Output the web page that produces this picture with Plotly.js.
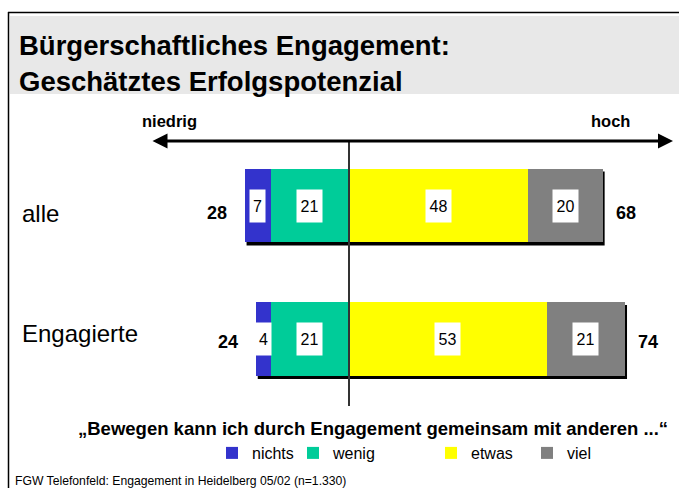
<!DOCTYPE html>
<html><head><meta charset="utf-8">
<script src="https://cdn.plot.ly/plotly-3.0.1.min.js"></script>
<style>html,body{margin:0;padding:0;background:#fff}#chart{width:679px;height:488px}</style>
</head><body><div id="chart"></div>
<script>
const groups = ['alle', 'Engagierte'];
const seriesNames = ['nichts', 'wenig', 'etwas', 'viel'];
const nichts = [7, 4];
const wenig = [21, 21];
const etwas = [48, 53];
const viel = [20, 21];
const lowTotal = [28, 24];
const highTotal = [68, 74];
const colors = ['#3333CC', '#00CC99', '#FFFF00', '#808080'];
const titleText = 'Bürgerschaftliches Engagement:<br>Geschätztes Erfolgspotenzial';
const questionText = '„Bewegen kann ich durch Engagement gemeinsam mit anderen ...“';
const sourceText = 'FGW Telefonfeld: Engagement in Heidelberg 05/02 (n=1.330)';
const lowLabel = 'niedrig', highLabel = 'hoch';

const W = 679, H = 488;
const PXU = 3.73;              // pixels per unit on x
const X0PX = 349;              // pixel position of zero
const UNITY = 133.5;           // pixels between category centres
const py = p => 1 - p / H;
const px = p => p / W;
const xu = p => (p - X0PX) / PXU;
const FONT = 'Liberation Sans, Arial, sans-serif';
const BARW = 0.554;

const vals = [nichts, wenig, etwas, viel];
const legendX = [212, 293, 431, 527];
const legendIds = ['legend', 'legend2', 'legend3', 'legend4'];
const traces = [];
[1, 0, 2, 3].forEach(i => {
  const sign = i < 2 ? -1 : 1;
  traces.push({
    type: 'bar', orientation: 'h', name: seriesNames[i],
    y: groups, x: vals[i].map(v => sign * v),
    marker: {color: colors[i], line: {width: 0}},
    width: BARW, legend: legendIds[i],
    hoverinfo: 'skip'
  });
});

const annotations = [];
const shapes = [];
const labelShift = [-7.5, 6];
const totalShift = [-7.5, -3];
groups.forEach((g, gi) => {
  const n = nichts[gi], w = wenig[gi], e = etwas[gi], v = viel[gi];
  const centers = [-(w + n / 2), -w / 2, e / 2, e + v / 2];
  const values = [n, w, e, v];
  values.forEach((val, k) => {
    annotations.push({
      x: centers[k], y: g, xref: 'x', yref: 'y', text: String(val),
      showarrow: false, bgcolor: '#ffffff', borderpad: 0,
      width: String(val).length > 1 ? 25 : 15, height: 32,
      font: {family: FONT, size: 16, color: '#000'}
    });
  });
  annotations.push({
    x: -(n + w), y: g, xref: 'x', yref: 'y', text: '<b>' + lowTotal[gi] + '</b>',
    xanchor: 'right', yanchor: 'middle', xshift: -16, yshift: totalShift[gi], showarrow: false,
    font: {family: FONT, size: 18, color: '#000'}
  });
  annotations.push({
    x: e + v, y: g, xref: 'x', yref: 'y', text: '<b>' + highTotal[gi] + '</b>',
    xanchor: 'left', yanchor: 'middle', xshift: 11, yshift: totalShift[gi], showarrow: false,
    font: {family: FONT, size: 18, color: '#000'}
  });
  annotations.push({
    x: px(20), y: g, xref: 'paper', yref: 'y', text: g,
    xanchor: 'left', yanchor: 'middle', yshift: labelShift[gi], showarrow: false,
    font: {family: FONT, size: 24, color: '#000'}
  });
  // drop shadow behind the bar
  shapes.push({
    type: 'rect', layer: 'below', xref: 'x', yref: 'y',
    x0: -(n + w) + 2 / PXU, x1: e + v + 2 / PXU,
    y0: gi - BARW / 2 + 3 / UNITY, y1: gi + BARW / 2 + 3 / UNITY,
    fillcolor: '#000', line: {width: 0}
  });
});

// header band and frame
shapes.push({type: 'rect', layer: 'below', xref: 'paper', yref: 'paper',
  x0: px(10), x1: 1, y0: py(94), y1: py(16), fillcolor: '#e8e8e8', line: {width: 0}});
shapes.push({type: 'line', xref: 'paper', yref: 'paper', x0: px(8), x1: 1, y0: py(12.5), y1: py(12.5),
  line: {color: '#000', width: 1.5}});
shapes.push({type: 'line', xref: 'paper', yref: 'paper', x0: px(8.5), x1: px(8.5), y0: py(12), y1: 0,
  line: {color: '#000', width: 1.5}});
// centre line
shapes.push({type: 'line', layer: 'above', xref: 'x', yref: 'paper', x0: 0, x1: 0, y0: py(406), y1: py(141),
  line: {color: '#333', width: 2}});

// scale arrow
annotations.push({x: xu(673), y: py(141), xref: 'x', yref: 'paper', ax: xu(151), ay: 0,
  axref: 'x', ayref: 'pixel', text: '', showarrow: true, arrowhead: 2, arrowside: 'end+start',
  arrowwidth: 3, arrowsize: 1, arrowcolor: '#000'});
annotations.push({x: px(169), y: py(121), xref: 'paper', yref: 'paper', text: '<b>' + lowLabel + '</b>',
  xanchor: 'center', yanchor: 'middle', showarrow: false, font: {family: FONT, size: 16.5, color: '#000'}});
annotations.push({x: px(610), y: py(121), xref: 'paper', yref: 'paper', text: '<b>' + highLabel + '</b>',
  xanchor: 'center', yanchor: 'middle', showarrow: false, font: {family: FONT, size: 16.5, color: '#000'}});
annotations.push({x: px(373), y: py(428), xref: 'paper', yref: 'paper', text: '<b>' + questionText + '</b>',
  xanchor: 'center', yanchor: 'middle', showarrow: false, font: {family: FONT, size: 18.5, color: '#000'}});
annotations.push({x: px(13), y: py(481), xref: 'paper', yref: 'paper', text: sourceText,
  xanchor: 'left', yanchor: 'middle', showarrow: false, font: {family: FONT, size: 12.2, color: '#000'}});

const layout = {
  width: W, height: H, margin: {l: 0, r: 0, t: 0, b: 0},
  paper_bgcolor: '#fff', plot_bgcolor: 'rgba(0,0,0,0)',
  barmode: 'relative', bargap: 0,
  title: {text: '<b>' + titleText + '</b>', x: px(19), xanchor: 'left', xref: 'paper',
    y: 1 - 55 / H, yanchor: 'top', yref: 'container', automargin: false,
    font: {family: FONT, size: 27.5, color: '#000'}},
  xaxis: {range: [xu(0), xu(W)], visible: false, fixedrange: true},
  yaxis: {type: 'category', categoryorder: 'array', categoryarray: groups,
    range: [(H - 205.5) / UNITY, -205.5 / UNITY], visible: false, fixedrange: true},
  showlegend: true,
  shapes: shapes, annotations: annotations
};
legendIds.forEach((id, i) => {
  layout[id] = {orientation: 'h', yanchor: 'middle', y: py(453), xanchor: 'left', x: px(legendX[i]),
    font: {family: FONT, size: 16, color: '#000'}, bgcolor: 'rgba(0,0,0,0)', itemwidth: 30,
    itemclick: false, itemdoubleclick: false};
});

Plotly.newPlot('chart', traces, layout, {displayModeBar: false, staticPlot: true});
</script></body></html>
